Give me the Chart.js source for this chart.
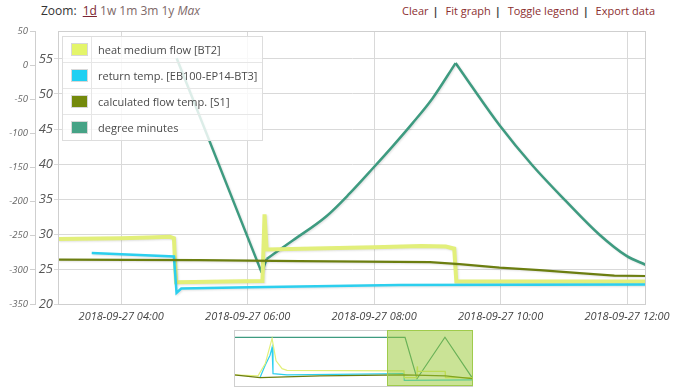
<!DOCTYPE html>
<html>
<head>
<meta charset="utf-8">
<script src="https://cdn.jsdelivr.net/npm/chart.js@4.4.1/dist/chart.umd.min.js"></script>
<style>
body { margin: 0; background: #fff; font-family: 'Open Sans', sans-serif; }
#wrap { position: relative; width: 681px; height: 391px; overflow: hidden; }
#mainChart { position: absolute; left: 0; top: 0; }
#navChart { position: absolute; left: 232px; top: 329px; }
.bar { position: absolute; top: 2px; font-size: 12px; line-height: 18px; white-space: nowrap; }
#zoomBar { left: 41px; color: #333; }
#zoomBar .on { color: #7b2430; text-decoration: underline; margin-left: 3px; }
#zoomBar .off { color: #7d6868; }
#linkBar { right: 26px; color: #8c2f2f; font-size: 11px; }
#linkBar .sep { color: #444; font-weight: bold; margin: 0 4px 0 4px; }
#legend { position: absolute; left: 62px; top: 36px; width: 199px; border: 1px solid #ddd;
          background: rgba(255,255,255,0.82); font-size: 11px; color: #4a4a4a; }
.row { display: flex; height: 25px; border-bottom: 1px solid #e6e6e6; }
.row:last-child { border-bottom: none; }
.sw { width: 28px; border-right: 1px solid #e6e6e6; position: relative; }
.sw span { position: absolute; left: 8px; top: 6px; width: 15px; height: 11px; border: 1px solid #d8d8d8; }
.lab { padding-left: 6px; line-height: 25px; }
</style>
</head>
<body>
<div id="wrap">
  <div id="zoomBar" class="bar">Zoom: <span class="on">1d</span> <span class="off">1w 1m 3m 1y <i>Max</i></span></div>
  <div id="linkBar" class="bar">Clear<span class="sep">|</span> Fit graph<span class="sep">|</span> Toggle legend<span class="sep">|</span> Export data</div>
  <canvas id="mainChart" width="681" height="330"></canvas>
  <canvas id="navChart" width="243" height="59"></canvas>
  <div id="legend"></div>
</div>
<script>
// times are minutes after 2018-09-27 00:00
const xTicks = [240, 360, 480, 600, 720];
const dmTicks = [50, 0, -50, -100, -150, -200, -250, -300, -350];
const tempTicks = [20, 25, 30, 35, 40, 45, 50, 55];

const labels = ['heat medium flow [BT2]', 'return temp. [EB100-EP14-BT3]', 'calculated flow temp. [S1]', 'degree minutes'];
const colors = ['#e2ef7a', '#2ccfee', '#6c7e10', '#3e9b80'];
const swatches = ['#e4f56a', '#1fd0f2', '#748a0c', '#46a386'];

const flowTimes = [180, 240, 266, 286, 290, 292, 373, 374, 376, 378, 480, 525, 548, 556, 558, 738];
const flowTemps = [29.3, 29.4, 29.5, 29.6, 29.4, 23.1, 23.3, 23.3, 32.8, 27.8, 28.1, 28.3, 28.2, 27.9, 23.2, 23.2];

const returnTimes = [212, 290, 292.5, 297, 362, 504, 738];
const returnTemps = [27.3, 26.8, 21.6, 22.2, 22.4, 22.7, 22.8];

const calcTimes = [180, 314, 409, 533, 561, 599, 637, 675, 708, 738];
const calcTemps = [26.34, 26.27, 26.13, 25.99, 25.7, 25.2, 24.85, 24.42, 24.06, 24.0];

const dmTimes = [292.6, 373.3, 378, 402.7, 435, 456.8, 478.6, 497.5, 516.5, 535.5, 557.3, 570.6, 599, 630.3, 661.6, 693.9, 719.5, 737.5];
const dmValues = [10, -304, -284, -257, -221, -188, -151.5, -119, -85, -48.5, 3, -26.5, -88, -147, -198.5, -248.5, -279.5, -292.5];

// navigator (whole day, levels 0-100)
const navTealTimes = [-813, 297, 375, 556, 732];
const navTeal = [87, 87, 13, 87, 15];
const navFlowTimes = [-813, -657, -610, -566, -540, -501, -469, 290, 292, 374, 376, 378, 557, 559, 732];
const navFlow = [20, 18, 40, 85, 45, 31, 28, 27, 15, 15, 35, 26, 26, 15, 15];
const navReturnTimes = [-644, -612, -579, -566, -560, -469, 290, 292, 738];
const navReturn = [15, 36, 55, 69, 22, 20, 22, 10, 11];
const navCalcTimes = [-813, -644, -255, 297, 560, 732];
const navCalc = [20, 15, 18, 20, 18, 13];
const viewRange = [180, 738];

const pts = (ts, vs) => ts.map((t, i) => ({ x: t, y: vs[i] }));
const pad = n => String(n).padStart(2, '0');

// legend
const legendEl = document.getElementById('legend');
labels.forEach((l, i) => {
    legendEl.innerHTML += '<div class="row"><div class="sw"><span style="background:' + swatches[i] + '"></span></div><div class="lab">' + l + '</div></div>';
});

const boxPlugin = {
    id: 'box',
    beforeDatasetDraw(chart) {
        const c = chart.ctx;
        c.save();
        c.shadowColor = 'rgba(0,0,0,0.12)';
        c.shadowBlur = 2;
        c.shadowOffsetX = 1;
        c.shadowOffsetY = 1;
    },
    afterDatasetDraw(chart) { chart.ctx.restore(); },
    afterDraw(chart) {
        const a = chart.chartArea, c = chart.ctx;
        c.save();
        c.strokeStyle = '#cfcfcf';
        c.lineWidth = 1;
        c.strokeRect(Math.round(a.left) + 0.5, Math.round(a.top) + 0.5, Math.round(a.right - a.left) - 1, Math.round(a.bottom - a.top));
        c.restore();
    }
};

const line = (label, data, color, width, axis) => ({
    label, data, borderColor: color, backgroundColor: color, borderWidth: width,
    pointRadius: 0, tension: 0, yAxisID: axis, fill: false
});

// degree minutes: split at turning points and sharp kinks, each leg drawn as a monotone curve
const dmPts = pts(dmTimes, dmValues);
const slope = i => (dmValues[i + 1] - dmValues[i]) / (dmTimes[i + 1] - dmTimes[i]);
const cuts = [0];
for (let i = 1; i < dmValues.length - 1; i++) {
    const a = slope(i - 1), b = slope(i);
    if (a * b < 0 || Math.abs(a / b) > 3 || Math.abs(b / a) > 3) cuts.push(i);
}
cuts.push(dmValues.length - 1);
const dmSets = [];
for (let k = 0; k < cuts.length - 1; k++) {
    const ds = line(labels[3], dmPts.slice(cuts[k], cuts[k + 1] + 1), colors[3], 2.5, 'dm');
    ds.cubicInterpolationMode = 'monotone';
    dmSets.push(ds);
}

new Chart(document.getElementById('mainChart'), {
    type: 'line',
    data: {
        datasets: [
            line(labels[2], pts(calcTimes, calcTemps), colors[2], 2.2, 'temp'),
            line(labels[1], pts(returnTimes, returnTemps), colors[1], 2.5, 'temp'),
            line(labels[0], pts(flowTimes, flowTemps), colors[0], 4, 'temp'),
            ...dmSets
        ]
    },
    options: {
        responsive: false,
        animation: false,
        layout: { padding: { top: 31, right: 35, left: 0, bottom: 0 } },
        plugins: { legend: { display: false }, tooltip: { enabled: false } },
        scales: {
            x: {
                type: 'linear', min: viewRange[0], max: viewRange[1],
                afterBuildTicks: s => { s.ticks = xTicks.map(v => ({ value: v })); },
                afterFit: s => { s.height = 26; },
                grid: { color: '#d9d9d9', drawTicks: false },
                border: { display: false },
                ticks: {
                    padding: 6, maxRotation: 0, color: '#444',
                    font: { family: 'Open Sans', size: 11, style: 'italic' },
                    callback: v => '2018-09-27 ' + pad(Math.floor(v / 60)) + ':' + pad(v % 60)
                }
            },
            dm: {
                type: 'linear', position: 'left', weight: 1, min: -350, max: 50,
                afterBuildTicks: s => { s.ticks = dmTicks.map(v => ({ value: v })); },
                afterFit: s => { s.width = 35; },
                grid: { drawOnChartArea: false, color: '#cfcfcf', tickLength: 5 },
                border: { display: true, color: '#cfcfcf' },
                ticks: { padding: 2, color: '#666', font: { family: 'Open Sans', size: 9.5, style: 'italic' } }
            },
            temp: {
                type: 'linear', position: 'left', weight: 0, min: 20, max: 59,
                afterBuildTicks: s => { s.ticks = tempTicks.map(v => ({ value: v })); },
                afterFit: s => { s.width = 23; },
                grid: { color: '#d9d9d9', tickLength: 4 },
                border: { display: true, color: '#cfcfcf' },
                ticks: { padding: 1, color: '#555', font: { family: 'Open Sans', size: 13, style: 'italic' } }
            }
        }
    },
    plugins: [boxPlugin]
});

const windowPlugin = {
    id: 'window',
    afterDraw(chart) {
        const a = chart.chartArea, c = chart.ctx, x = chart.scales.x;
        const x0 = x.getPixelForValue(viewRange[0]), x1 = x.getPixelForValue(viewRange[1]);
        c.save();
        c.strokeStyle = '#cfcfcf';
        c.strokeRect(a.left + 0.5, a.top + 0.5, a.right - a.left - 1, a.bottom - a.top);
        c.fillStyle = 'rgba(150,200,45,0.5)';
        c.fillRect(x0, a.top, x1 - x0, a.bottom - a.top);
        c.strokeStyle = '#9fcb4c';
        c.strokeRect(x0 + 0.5, a.top + 0.5, x1 - x0 - 1, a.bottom - a.top - 1);
        c.restore();
    }
};

new Chart(document.getElementById('navChart'), {
    type: 'line',
    data: {
        datasets: [
            line('calc', pts(navCalcTimes, navCalc), colors[2], 1.2, 'y'),
            line('flow', pts(navFlowTimes, navFlow), colors[0], 1.2, 'y'),
            line('return', pts(navReturnTimes, navReturn), colors[1], 1.2, 'y'),
            line('dm', pts(navTealTimes, navTeal), colors[3], 1.2, 'y')
        ]
    },
    options: {
        responsive: false,
        animation: false,
        layout: { padding: { left: 2, right: 2, top: 1, bottom: 2 } },
        plugins: { legend: { display: false }, tooltip: { enabled: false } },
        scales: {
            x: { type: 'linear', min: -813, max: 738, display: false },
            y: { min: 0, max: 100, display: false }
        }
    },
    plugins: [windowPlugin]
});
</script>
</body>
</html>
